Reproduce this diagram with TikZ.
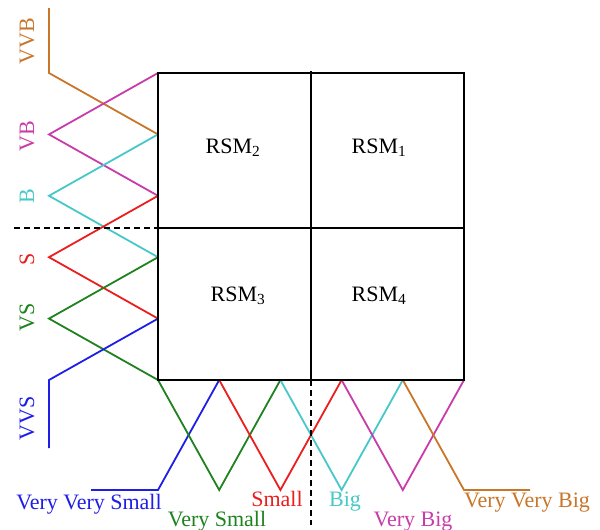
\documentclass[tikz,border=0pt]{standalone}
\usepackage{fontspec}
\setmainfont{Liberation Serif}
\definecolor{cVVB}{RGB}{200,118,40}
\definecolor{cVB}{RGB}{200,60,170}
\definecolor{cB}{RGB}{70,200,200}
\definecolor{cS}{RGB}{235,30,30}
\definecolor{cVS}{RGB}{30,130,30}
\definecolor{cVVS}{RGB}{30,30,230}
\begin{document}
\begin{tikzpicture}[x=1pt,y=-1pt,
  mf/.style={line width=1.8pt, line join=miter},
  frame/.style={line width=2.2pt},
  guide/.style={line width=1.6pt, dash pattern=on 6pt off 4pt},
  lbl/.style={font=\fontsize{22}{26}\selectfont, inner sep=0pt},
  vlbl/.style={lbl, rotate=90}]
\useasboundingbox (0,0) rectangle (600,530);

% break points on the left edge of the square (top to bottom)
\foreach \k in {0,...,5} {
  \coordinate (L\k) at (158,73+61.4*\k);
  \coordinate (P\k) at (49,73+61.4*\k);
}
% break points on the bottom edge of the square (left to right)
\foreach \k in {0,...,5} {
  \coordinate (B\k) at (158+61.2*\k,380);
  \coordinate (Q\k) at (158+61.2*\k,490);
}
\coordinate (vvbTop) at (49,8);
\coordinate (vvsBot) at (49,448);
\coordinate (vvsEnd) at (91,490);
\coordinate (vvbEnd) at (530,490);

% vertical axis membership functions
\draw[mf, cVVB] (vvbTop) -- (P0) -- (L1);
\draw[mf, cVB]  (L0) -- (P1) -- (L2);
\draw[mf, cB]   (L1) -- (P2) -- (L3);
\draw[mf, cS]   (L2) -- (P3) -- (L4);
\draw[mf, cVS]  (L3) -- (P4) -- (L5);
\draw[mf, cVVS] (L4) -- (P5) -- (vvsBot);

% horizontal axis membership functions
\draw[mf, cVVS] (B1) -- (Q0) -- (vvsEnd);
\draw[mf, cVS]  (B0) -- (Q1) -- (B2);
\draw[mf, cS]   (B1) -- (Q2) -- (B3);
\draw[mf, cB]   (B2) -- (Q3) -- (B4);
\draw[mf, cVB]  (B3) -- (Q4) -- (B5);
\draw[mf, cVVB] (B4) -- (Q5) -- (vvbEnd);

% square split into four regions
\coordinate (tl) at (158,73);
\coordinate (br) at (464,380);
\coordinate (midTop) at (311,71);
\coordinate (midBot) at (311,380);
\coordinate (midLeft) at (158,228);
\coordinate (midRight) at (464,228);
\coordinate (dashLeft) at (14,228);
\coordinate (dashBot) at (311,525);
\draw[frame] (tl) rectangle (br);
\draw[frame] (midTop) -- (midBot);
\draw[frame] (midLeft) -- (midRight);
\draw[guide] (dashLeft) -- (midLeft);
\draw[guide] (midBot) -- (dashBot);

% region labels
\node[lbl] (rsm2) at (233,148) {RSM\textsubscript{2}};
\node[lbl] (rsm1) at (379,148) {RSM\textsubscript{1}};
\node[lbl] (rsm3) at (238,296) {RSM\textsubscript{3}};
\node[lbl] (rsm4) at (379,296) {RSM\textsubscript{4}};

% vertical axis labels
\node[vlbl, text=cVVB] (tVVB) at (27,41)  {VVB};
\node[vlbl, text=cVB]  (tVB)  at (27,136) {VB};
\node[vlbl, text=cB]   (tB)   at (27,196) {B};
\node[vlbl, text=cS]   (tS)   at (27,259) {S};
\node[vlbl, text=cVS]  (tVS)  at (27,317) {VS};
\node[vlbl, text=cVVS] (tVVS) at (27,418) {VVS};

% horizontal axis labels
\node[lbl, text=cVVS, anchor=base] (hVVS) at (89,509)  {Very Very Small};
\node[lbl, text=cVS,  anchor=base] (hVS)  at (217,526) {Very Small};
\node[lbl, text=cS,   anchor=base] (hS)   at (277,506) {Small};
\node[lbl, text=cB,   anchor=base] (hB)   at (345,506) {Big};
\node[lbl, text=cVB,  anchor=base] (hVB)  at (413,526) {Very Big};
\node[lbl, text=cVVB, anchor=base] (hVVB) at (527,507) {Very Very Big};
\end{tikzpicture}
\end{document}
